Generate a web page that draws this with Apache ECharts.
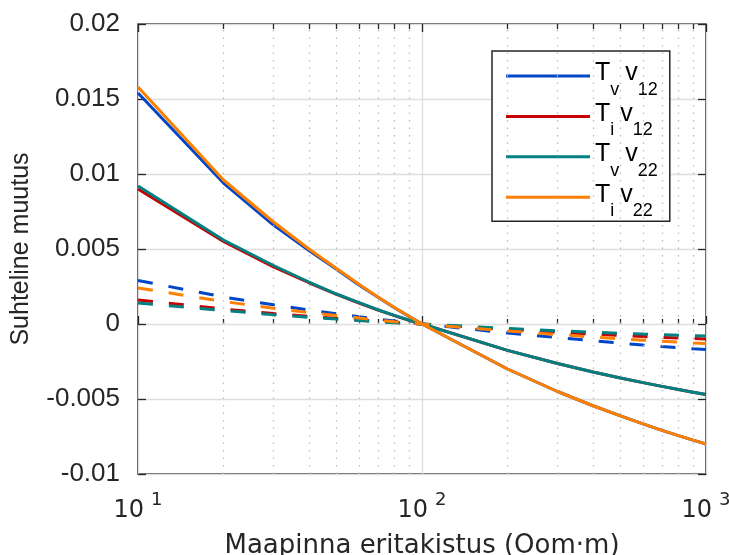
<!DOCTYPE html>
<html>
<head>
<meta charset="utf-8">
<script src="https://cdn.jsdelivr.net/npm/echarts@6/dist/echarts.min.js"></script>
<style>
html,body{margin:0;padding:0;background:#fff;}
#chart{width:729px;height:555px;}
</style>
</head>
<body>
<div id="chart"></div>
<script>
// ---- data ----
const xVals = [10,20,30,40,50,60,70,80,90,100,200,300,400,500,600,700,800,900,1000];
const minorTicks = [20,30,40,50,60,70,80,90,200,300,400,500,600,700,800,900];
const majorTicks = [10,100,1000];
const xExponents = ['1','2','3'];
const yTickLabels = ['-0.01','-0.005','0','0.005','0.01','0.015','0.02'];
const yMin = -0.01, yMax = 0.02, yStep = 0.005;

const legendNames = ['Tv v12','Ti v12','Tv v22','Ti v22'];
const legendSub1 = ['v','i','v','i'];
const legendSub2 = ['12','12','22','22'];

// solid curves
const tvV12 = [0.0154,0.0094,0.0066,0.0049,0.00365,0.0026,0.00178,0.00108,0.00051,0,-0.0030,-0.0045,-0.00545,-0.00613,-0.00666,-0.00709,-0.00744,-0.00774,-0.0080];
const tiV12 = [0.0090,0.0055,0.0038,0.00275,0.00197,0.0014,0.00093,0.00056,0.00025,0,-0.00176,-0.00263,-0.0032,-0.0036,-0.00391,-0.00416,-0.00437,-0.00455,-0.0047];
const tvV22 = [0.0092,0.0056,0.0039,0.0028,0.0020,0.00143,0.00095,0.00057,0.00026,0,-0.00176,-0.00263,-0.0032,-0.0036,-0.00391,-0.00416,-0.00437,-0.00455,-0.0047];
const tiV22 = [0.0158,0.0096,0.0068,0.0050,0.0037,0.00265,0.0018,0.0011,0.00052,0,-0.0030,-0.0045,-0.00545,-0.00613,-0.00666,-0.00709,-0.00744,-0.00774,-0.0080];

// dashed curves
const tvV12d = [0.0029,0.0018,0.00128,0.00093,0.00068,0.00049,0.00033,0.0002,0.0001,0,-0.0006,-0.0009,-0.00112,-0.00128,-0.0014,-0.0015,-0.00158,-0.00165,-0.0017];
const tiV12d = [0.0016,0.0010,0.0007,0.0005,0.00038,0.00027,0.00018,0.0001,0.00005,0,-0.00036,-0.00055,-0.00068,-0.00077,-0.00084,-0.0009,-0.00094,-0.00097,-0.0010];
const tvV22d = [0.0014,0.0009,0.00062,0.00045,0.00033,0.00023,0.00015,0.00009,0.00004,0,-0.0003,-0.00045,-0.00055,-0.00062,-0.00067,-0.00071,-0.00075,-0.00078,-0.0008];
const tiV22d = [0.0024,0.0015,0.00105,0.00076,0.00057,0.0004,0.00026,0.00015,0.00007,0,-0.00047,-0.0007,-0.00087,-0.00099,-0.00108,-0.00115,-0.00121,-0.00126,-0.0013];

const colors = ['#0046C8','#C80000','#008080','#FF8000'];

// ---- chart ----
const chart = echarts.init(document.getElementById('chart'), null, {renderer:'canvas'});
const axisColor = '#262626';
const tickStyle = {color: axisColor, width: 1.3};
const xBase = {type:'log', logBase:10, min:10, max:1000, gridIndex:0};

function pairs(vals){ return xVals.map((x,i)=>[x, vals[i]]); }

const solidSets = [tvV12, tiV12, tvV22, tiV22];
const dashedSets = [tvV12d, tiV12d, tvV22d, tiV22d];

const series = [];
series.push({
  type:'line', name:'_grid', data:[[10,0]], symbol:'none', silent:true, z:1,
  lineStyle:{opacity:0},
  markLine:{
    silent:true, symbol:'none', label:{show:false}, animation:false,
    lineStyle:{type:[1.5,6], width:1.3, color:'#bdbdbd'},
    data: minorTicks.map(v=>({xAxis:v}))
  }
});
solidSets.forEach((vals,i)=>{
  series.push({
    type:'line', name: legendNames[i], data: pairs(vals), symbol:'none', showSymbol:false,
    color: colors[i], itemStyle:{color: colors[i]},
    lineStyle:{width:3, color: colors[i]}, z: 3+i, silent:true
  });
});
dashedSets.forEach((vals,i)=>{
  series.push({
    type:'line', name: 'dash'+i, data: pairs(vals), symbol:'none', showSymbol:false,
    color: colors[i], itemStyle:{color: colors[i]},
    lineStyle:{width:3, color: colors[i], type:[15,16]}, z: 3+i, silent:true
  });
});

const legendText = {};
legendNames.forEach((n,i)=>{
  legendText[n] = '{b|T}{s|' + legendSub1[i] + '}{v|v}{s|' + legendSub2[i] + '}';
});

const option = {
  animation:false,
  backgroundColor:'#ffffff',
  grid:{left:138, top:24, width:568, height:450, show:true, borderColor:axisColor, borderWidth:1.5,
        backgroundColor:'transparent', containLabel:false, outerBoundsMode:'none'},
  legend:{
    orient:'vertical', left:492, top:51, padding:[10,12,1,14], itemGap:2.4,
    itemWidth:84, itemHeight:3, icon:'rect',
    backgroundColor:'#ffffff', borderColor:axisColor, borderWidth:1.5, borderRadius:0,
    data: legendNames, selectedMode:false,
    formatter: n => legendText[n],
    textStyle:{
      color:'#000',
      rich:{
        b:{fontSize:25, fontFamily:'Liberation Sans', lineHeight:30, verticalAlign:'top', color:'#000'},
        v:{fontSize:25, fontFamily:'Liberation Sans', lineHeight:30, verticalAlign:'top', color:'#000', padding:[0,0,0,6]},
        s:{fontSize:18, fontFamily:'Liberation Sans', lineHeight:18, padding:[20,0,0,0], verticalAlign:'top', color:'#000'}
      }
    }
  },
  xAxis:[
    Object.assign({}, xBase, {
      position:'bottom',
      axisLine:{show:false},
      axisTick:{show:true, inside:true, length:8, lineStyle:tickStyle},
      axisLabel:{
        show:true, margin:17,
        formatter: v => {
          const e = Math.round(Math.log10(v));
          const idx = majorTicks.indexOf(Math.pow(10,e));
          return '{b|10}{s|' + xExponents[idx] + '}';
        },
        rich:{
          b:{fontSize:24, fontFamily:'DejaVu Sans', color:axisColor, lineHeight:26, padding:[8,0,0,0], verticalAlign:'top'},
          s:{fontSize:18, fontFamily:'DejaVu Sans', color:axisColor, lineHeight:18, padding:[0,0,0,7], verticalAlign:'top'}
        }
      },
      splitLine:{show:true, lineStyle:{color:'#dedede', width:1.3}},
      name:'Maapinna eritakistus (Oom·m)', nameLocation:'middle', nameGap:59,
      nameTextStyle:{fontSize:26, fontFamily:'DejaVu Sans', color:axisColor}
    }),
    Object.assign({}, xBase, {
      position:'bottom',
      axisLine:{show:false},
      axisTick:{show:true, inside:true, length:5, lineStyle:tickStyle, customValues:minorTicks},
      axisLabel:{show:false},
      splitLine:{show:false}
    }),
    Object.assign({}, xBase, {
      position:'top',
      axisLine:{show:false},
      axisTick:{show:true, inside:true, length:8, lineStyle:tickStyle},
      axisLabel:{show:false},
      splitLine:{show:false}
    }),
    Object.assign({}, xBase, {
      position:'top',
      axisLine:{show:false},
      axisTick:{show:true, inside:true, length:5, lineStyle:tickStyle, customValues:minorTicks},
      axisLabel:{show:false},
      splitLine:{show:false}
    })
  ],
  yAxis:[
    {
      type:'value', min:yMin, max:yMax, interval:yStep, position:'left',
      axisLine:{show:false},
      axisTick:{show:true, inside:true, length:8, lineStyle:tickStyle},
      axisLabel:{
        margin:18, fontSize:26, fontFamily:'Liberation Sans', color:axisColor,
        formatter: v => yTickLabels[Math.round((v - yMin)/yStep)]
      },
      splitLine:{show:true, lineStyle:{color:'#dedede', width:1.3}},
      name:'Suhteline muutus', nameLocation:'middle', nameGap:104, nameRotate:90,
      nameTextStyle:{fontSize:25, fontFamily:'Liberation Sans', color:axisColor}
    },
    {
      type:'value', min:yMin, max:yMax, interval:yStep, position:'right',
      axisLine:{show:false},
      axisTick:{show:true, inside:true, length:8, lineStyle:tickStyle},
      axisLabel:{show:false},
      splitLine:{show:false}
    }
  ],
  series: series
};
chart.setOption(option);
</script>
</body>
</html>
